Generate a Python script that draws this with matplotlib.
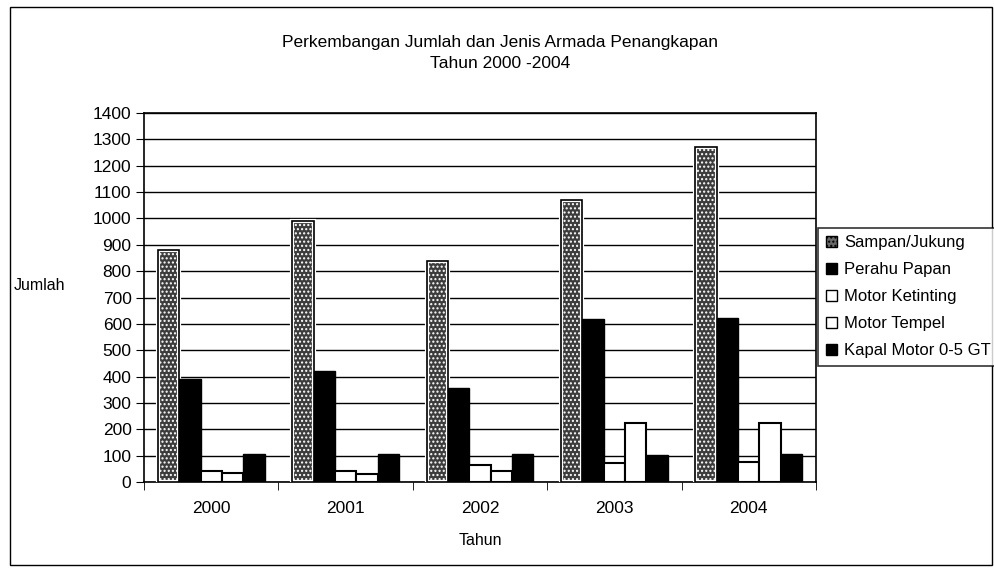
import matplotlib
matplotlib.use('Agg')
import matplotlib.pyplot as plt
import numpy as np
from matplotlib.patches import Rectangle, Patch

plt.rcParams['font.family'] = ['Liberation Sans', 'DejaVu Sans']
plt.rcParams['hatch.linewidth'] = 1.0

years = ['2000', '2001', '2002', '2003', '2004']
series = ['Sampan/Jukung', 'Perahu Papan', 'Motor Ketinting', 'Motor Tempel',
          'Kapal Motor 0-5 GT']
sampan = [880, 990, 840, 1070, 1270]
perahu = [390, 420, 355, 618, 622]
ketinting = [40, 40, 65, 73, 76]
tempel = [34, 32, 42, 225, 225]
kapal = [105, 105, 105, 104, 106]
values = [sampan, perahu, ketinting, tempel, kapal]
y_ticks = list(range(0, 1401, 100))

fig = plt.figure(figsize=(9.94, 5.72), dpi=100)
ax = fig.add_axes([144 / 994, 1 - 482 / 572, (816 - 144) / 994, (482 - 113) / 572])

x = np.arange(len(years))
w = 0.159
offsets = (np.arange(5) - 2) * w

for i, vals in enumerate(values):
    pos = x + offsets[i]
    if i == 0:
        ax.bar(pos, vals, w, color='#3c3c3c', edgecolor='white', linewidth=3,
               hatch='....', zorder=3)
        ax.bar(pos, vals, w, color='none', edgecolor='black', linewidth=1.2,
               zorder=4)
    elif i in (1, 4):
        ax.bar(pos, vals, w, color='black', edgecolor='black', linewidth=1,
               zorder=3)
    else:
        ax.bar(pos, vals, w, color='white', edgecolor='black', linewidth=1.5,
               zorder=3)

ax.set_ylim(0, 1400)
ax.set_xlim(-0.5, len(years) - 0.5)
ax.set_yticks(y_ticks)
ax.set_yticklabels([str(v) for v in y_ticks], fontsize=12.5)
ax.yaxis.grid(True, color='black', linewidth=1)
ax.set_axisbelow(True)
ax.set_xticks(x)
ax.set_xticklabels(years, fontsize=12.5)
ax.tick_params(axis='x', length=0, pad=14)
ax.set_xticks(np.arange(len(years) + 1) - 0.5, minor=True)
ax.tick_params(axis='x', which='minor', length=6, direction='out')
ax.tick_params(axis='y', length=6, direction='out', pad=3)
for s in ax.spines.values():
    s.set_color('black')
    s.set_linewidth(1.2)

ax.set_xlabel('Tahun', fontsize=11.5, labelpad=12)

fig.text(14 / 994, 1 - 285 / 572, 'Jumlah', fontsize=11.5, ha='left', va='center')
fig.text(500 / 994, 1 - 42 / 572, 'Perkembangan Jumlah dan Jenis Armada Penangkapan',
         fontsize=12.5, ha='center', va='center')
fig.text(500 / 994, 1 - 63 / 572, 'Tahun 2000 -2004', fontsize=12.5,
         ha='center', va='center')

handles = [
    Patch(facecolor='#6a6a6a', edgecolor='black', hatch='....'),
    Patch(facecolor='black', edgecolor='black'),
    Patch(facecolor='white', edgecolor='black'),
    Patch(facecolor='white', edgecolor='black'),
    Patch(facecolor='black', edgecolor='black'),
]
leg = fig.legend(handles, series, loc='upper left',
                 bbox_to_anchor=(818 / 994, 1 - 228 / 572), fontsize=12,
                 frameon=True, fancybox=False, edgecolor='black',
                 handlelength=0.7, handleheight=0.7, handletextpad=0.4,
                 labelspacing=0.72, borderpad=0.45, borderaxespad=0)
leg.get_frame().set_linewidth(1.2)

fig.patches.append(Rectangle((10 / 994, 7 / 572), 982 / 994, 558 / 572,
                             transform=fig.transFigure, fill=False,
                             edgecolor='black', linewidth=1))

fig.savefig('out.png', dpi=100)
